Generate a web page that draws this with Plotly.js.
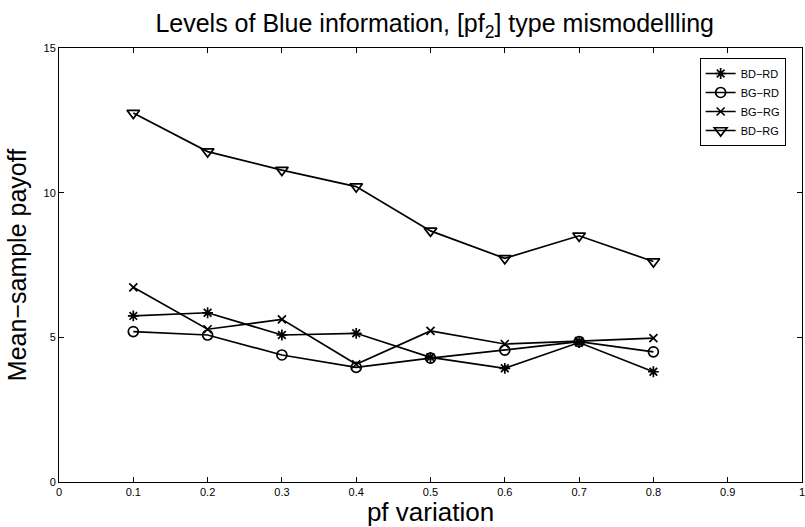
<!DOCTYPE html>
<html>
<head>
<meta charset="utf-8">
<script src="https://cdn.plot.ly/plotly-3.0.1.min.js"></script>
<style>html,body{margin:0;padding:0;background:#fff;}#chart{width:805px;height:527px;}</style>
</head>
<body>
<div id="chart"></div>
<script>
const xVals = [0.1, 0.2, 0.3, 0.4, 0.5, 0.6, 0.7, 0.8];
const bdRd = [5.74, 5.85, 5.08, 5.14, 4.31, 3.93, 4.82, 3.81];
const bgRd = [5.20, 5.08, 4.39, 3.96, 4.28, 4.56, 4.85, 4.50];
const bgRg = [6.73, 5.28, 5.62, 4.07, 5.22, 4.77, 4.87, 4.97];
const bdRg = [12.75, 11.42, 10.78, 10.21, 8.68, 7.73, 8.51, 7.62];
const seriesNames = ["BD\u2212RD", "BG\u2212RD", "BG\u2212RG", "BD\u2212RG"];
const xTicks = [0, 0.1, 0.2, 0.3, 0.4, 0.5, 0.6, 0.7, 0.8, 0.9, 1];
const xTickText = ["0", "0.1", "0.2", "0.3", "0.4", "0.5", "0.6", "0.7", "0.8", "0.9", "1"];
const yTicks = [0, 5, 10, 15];

const symbols = ["asterisk-open", "circle-open", "x-thin-open", "triangle-down-open"];
const sizes = [9, 10, 8, 11];
const data = [bdRd, bgRd, bgRg, bdRg].map((ys, i) => ({
  x: xVals, y: ys, name: seriesNames[i], type: "scatter", mode: "lines+markers",
  line: {color: "#000", width: 1.7},
  marker: {symbol: symbols[i], size: sizes[i], color: "#000", line: {color: "#000", width: 1.7}}
}));

const layout = {
  width: 805, height: 527,
  margin: {l: 59, r: 3, t: 48, b: 45},
  paper_bgcolor: "#fff", plot_bgcolor: "#fff",
  font: {family: "Liberation Sans, Arial, sans-serif", color: "#000"},
  title: {text: "Levels of Blue information, [pf<sub>2</sub>] type mismodellling", font: {size: 25}, x: 0.54, xanchor: "center", y: 0.955, yanchor: "middle"},
  xaxis: {range: [0, 1], tickvals: xTicks, ticktext: xTickText, ticks: "inside", ticklen: 5, tickcolor: "#000",
    showline: true, linecolor: "#000", linewidth: 1, mirror: "ticks", showgrid: false, zeroline: false,
    ticklabeloverflow: "allow",
    tickfont: {size: 11}, title: {text: "pf variation", font: {size: 26}, standoff: 0}},
  yaxis: {range: [0, 15], tickvals: yTicks, ticks: "inside", ticklen: 5, tickcolor: "#000",
    showline: true, linecolor: "#000", linewidth: 1, mirror: "ticks", showgrid: false, zeroline: false,
    tickfont: {size: 11}, title: {text: "Mean\u2212sample payoff", font: {size: 25}, standoff: 9}},
  showlegend: true,
  legend: {x: 0.978, y: 0.977, xanchor: "right", yanchor: "top", bgcolor: "#fff", bordercolor: "#000", borderwidth: 1,
    font: {size: 11}, tracegroupgap: 0, itemwidth: 30}
};
Plotly.newPlot("chart", data, layout, {displayModeBar: false, staticPlot: true});
</script>
</body>
</html>
